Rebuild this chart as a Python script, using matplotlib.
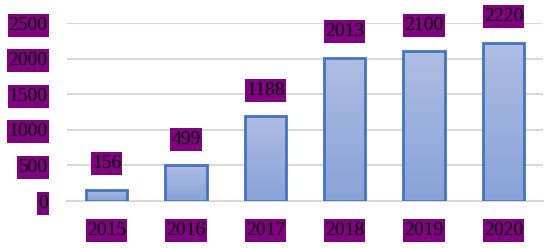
import matplotlib
matplotlib.use('Agg')
import matplotlib.pyplot as plt
import numpy as np
from matplotlib.patches import Rectangle
from matplotlib.path import Path

years = ['2015', '2016', '2017', '2018', '2019', '2020']
values = [156, 499, 1188, 2013, 2100, 2220]
yticks = [0, 500, 1000, 1500, 2000, 2500]

plt.rcParams['font.family'] = ['Liberation Serif', 'DejaVu Serif']
purple = '#800080'
fs = 14

# box tight left/right, a bit taller top/bottom
def tallbox(x0, y0, width, height, mutation_size):
    px, py = 1.0, 3.0
    x0, x1 = x0 - px, x0 + width + px
    y0, y1 = y0 - py, y0 + height + py
    return Path([(x0, y0), (x1, y0), (x1, y1), (x0, y1), (x0, y0)], closed=True)

fig = plt.figure(figsize=(5.5, 2.48), dpi=100)
ax = fig.add_axes([67/550, 1-201/248, 476/550, 178/248])

# gradient fill for bars
grad = np.linspace(0, 1, 256).reshape(-1, 1)
cmap = matplotlib.colors.LinearSegmentedColormap.from_list('g', ['#88a3d8', '#aebde3'])
w = 0.52
for i, v in enumerate(values):
    rect = Rectangle((i - w/2, 0), w, v, facecolor='none', edgecolor='#4472c4', lw=2, zorder=3)
    ax.add_patch(rect)
    im = ax.imshow(grad, extent=(i - w/2, i + w/2, 0, v), origin='lower', cmap=cmap,
                   aspect='auto', zorder=2)
    im.set_clip_path(rect)
    ax.annotate(str(v), (i, v), xytext=(0, 19), textcoords='offset points',
                ha='center', va='center', fontsize=fs, annotation_clip=False,
                bbox=dict(boxstyle=tallbox, fc=purple, ec='none'))
ax.set_aspect('auto')
ax.set_xlim(-0.5, 5.5)
ax.set_ylim(0, 2500)

ax.set_yticks(yticks)
ax.set_xticks(range(len(years)))
ax.set_xticklabels(years)
ax.yaxis.grid(True, color='#d9d9d9', lw=1.5)
ax.set_axisbelow(True)
for s in ['top', 'right', 'left']:
    ax.spines[s].set_visible(False)
ax.spines['bottom'].set_color('#d9d9d9')
ax.spines['bottom'].set_linewidth(1.5)
ax.tick_params(length=0, labelsize=fs)
ax.tick_params(axis='x', pad=15)
ax.tick_params(axis='y', pad=14)
for lab in ax.get_xticklabels() + ax.get_yticklabels():
    lab.set_bbox(dict(boxstyle=tallbox, fc=purple, ec='none'))

fig.savefig('out.png', dpi=100)
